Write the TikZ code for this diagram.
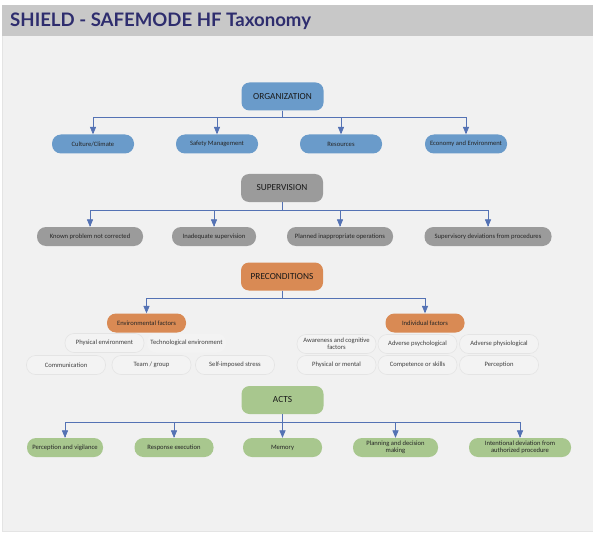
\documentclass[tikz,border=0pt]{standalone}
\usepackage{fontspec}
\setmainfont{Carlito}
\newfontfamily\titlefont{Lato}
\usetikzlibrary{arrows,calc}
\definecolor{HeadClr}{RGB}{200,200,200}
\definecolor{TitleClr}{RGB}{46,45,110}
\definecolor{BgClr}{RGB}{241,241,241}
\definecolor{EdgeClr}{RGB}{228,228,228}
\definecolor{LinkClr}{RGB}{84,114,180}
\definecolor{OrgClr}{RGB}{106,155,202}
\definecolor{SupClr}{RGB}{155,155,155}
\definecolor{PreClr}{RGB}{217,138,84}
\definecolor{ActClr}{RGB}{168,199,142}
\definecolor{SubClr}{RGB}{243,243,243}

\begin{document}
\begin{tikzpicture}[x=1pt,y=-1pt,
  level/.style={rounded corners=8pt,minimum width=82pt,minimum height=28pt,
    inner sep=1pt,text=black!90,font=\fontsize{9.3}{11}\selectfont},
  leaf/.style={rounded corners=9pt,minimum height=19pt,inner sep=1pt,
    align=center,text=black!85,font=\fontsize{6.6}{7.4}\selectfont},
  sub/.style={leaf,fill=SubClr,draw=EdgeClr,line width=0.6pt,minimum width=79pt,
    text=black!75},
  link/.style={draw=LinkClr,line width=0.7pt,-triangle 45}]

\useasboundingbox (0,0) rectangle (593,537);
% page
\fill[BgClr] (2,36) rectangle (593,531);
\draw[EdgeClr,line width=0.6pt] (2,36) -- (2,531) -- (593,531);
\fill[HeadClr] (2,5) rectangle (593,36);
\node[anchor=base west,inner sep=0pt,text=TitleClr,
  font=\titlefont\bfseries\fontsize{18.6}{21}\selectfont] (title) at (10,27)
  {SHIELD - SAFEMODE HF Taxonomy};

% organization
\node[level,fill=OrgClr] (org) at (282.5,96.5) {ORGANIZATION};
\node[leaf,fill=OrgClr,minimum width=82pt] (org1) at (93,144) {Culture/Climate};
\node[leaf,fill=OrgClr,minimum width=82pt] (org2) at (217,144) {Safety Management};
\node[leaf,fill=OrgClr,minimum width=82pt] (org3) at (341,144) {Resources};
\node[leaf,fill=OrgClr,minimum width=82pt] (org4) at (466,144) {Economy and Environment};
\foreach \c in {org1,org2,org3,org4}
  \draw[link] (org.south) -- ++(0,7) -| (\c.north);

% supervision
\node[level,fill=SupClr] (sup) at (282,188) {SUPERVISION};
\node[leaf,fill=SupClr,minimum width=106pt] (sup1) at (90,236.5) {Known problem not corrected};
\node[leaf,fill=SupClr,minimum width=84pt] (sup2) at (214,236.5) {Inadequate supervision};
\node[leaf,fill=SupClr,minimum width=106pt] (sup3) at (340,236.5) {Planned inappropriate operations};
\node[leaf,fill=SupClr,minimum width=127pt] (sup4) at (488,236.5) {Supervisory deviations from procedures};
\foreach \c in {sup1,sup2,sup3,sup4}
  \draw[link] (sup.south) -- ++(0,8) -| (\c.north);

% preconditions
\node[level,fill=PreClr] (pre) at (282,276.5) {PRECONDITIONS};
\node[leaf,fill=PreClr,minimum width=79pt] (env) at (146.5,323) {Environmental factors};
\node[leaf,fill=PreClr,minimum width=79pt] (ind) at (425,323) {Individual factors};
\foreach \c in {env,ind}
  \draw[link] (pre.south) -- ++(0,7.5) -| (\c.north);

\node[sub] (env1) at (104.5,343) {Physical environment};
\node[sub,draw=none] (env2) at (186.5,343) {Technological environment};
\node[sub] (env3) at (66,365) {Communication};
\node[sub] (env4) at (151.5,365) {Team / group};
\node[sub] (env5) at (235,365) {Self-imposed stress};

\node[sub] (ind1) at (336.5,344) {Awareness and cognitive\\factors};
\node[sub] (ind2) at (417.5,344) {Adverse psychological};
\node[sub] (ind3) at (499,344) {Adverse physiological};
\node[sub] (ind4) at (336.5,365) {Physical or mental};
\node[sub] (ind5) at (417.5,365) {Competence or skills};
\node[sub] (ind6) at (499,365) {Perception};

% acts
\node[level,fill=ActClr] (act) at (282.5,400) {ACTS};
\node[leaf,fill=ActClr,minimum width=76pt] (act1) at (65,447.5) {Perception and vigilance};
\node[leaf,fill=ActClr,minimum width=79pt] (act2) at (174,447.5) {Response execution};
\node[leaf,fill=ActClr,minimum width=79pt] (act3) at (282.5,447.5) {Memory};
\node[leaf,fill=ActClr,minimum width=85pt] (act4) at (395.5,447.5) {Planning and decision\\making};
\node[leaf,fill=ActClr,minimum width=102pt] (act5) at (520,447.5) {Intentional deviation from\\authorized procedure};
\foreach \c in {act1,act2,act3,act4,act5}
  \draw[link] (act.south) -- ++(0,8) -| (\c.north);

\end{tikzpicture}
\end{document}
